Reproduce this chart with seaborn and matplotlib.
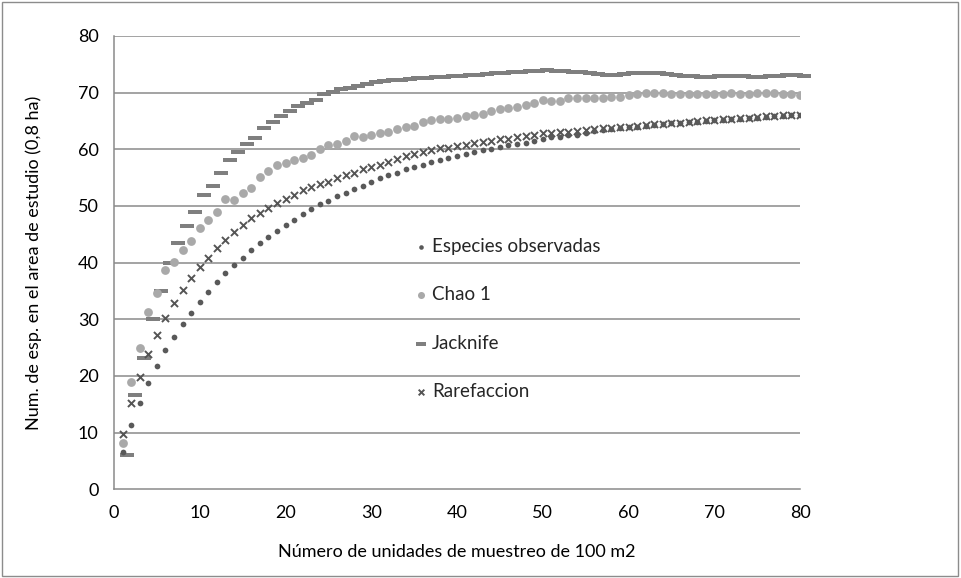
import numpy as np
import pandas as pd
import matplotlib
matplotlib.use("Agg")
import matplotlib.pyplot as plt
import seaborn as sns
from matplotlib.path import Path
from matplotlib.patches import Rectangle

# ---- data, one value per sampling unit 1..80 ----
observadas = [6.5, 11.3, 15.3, 18.8, 21.8, 24.5, 26.9, 29.1, 31.2, 33.1, 34.9, 36.6, 38.1, 39.6, 40.9, 42.2,
              43.4, 44.5, 45.6, 46.6, 47.6, 48.5,
              49.4, 50.3, 50.9, 51.8, 52.3, 53.0, 53.6, 54.3, 54.9, 55.5, 55.9, 56.5,
              56.9, 57.2, 57.7, 58.1, 58.5, 58.9, 59.2, 59.5, 59.8, 60.1, 60.4, 60.7, 60.9, 61.2, 61.4, 61.8,
              62.1, 62.2, 62.5, 62.6, 62.9, 63.2, 63.4, 63.5, 63.7, 63.9, 64.0, 64.1, 64.3, 64.4, 64.6, 64.7,
              64.8, 64.9,
              65.0, 65.1, 65.2, 65.3, 65.4, 65.5, 65.6, 65.7, 65.8, 65.9, 66.0, 66.0]
chao1 = [8.1, 19.0, 24.9, 31.3, 34.7, 38.7, 40.1, 42.2, 43.8, 46.2, 47.6, 49.0, 51.3, 51.0, 52.3, 53.1,
         55.1, 56.2, 57.2, 57.6, 58.1, 58.5,
         59.0, 60.0, 60.8, 61.0, 61.5, 62.4, 62.2, 62.6, 62.9, 63.1, 63.5, 64.0,
         64.1, 64.9, 65.2, 65.4, 65.3, 65.6, 65.9, 66.0, 66.3, 66.8, 67.1, 67.3, 67.5, 67.9, 68.2, 68.7,
         68.6, 68.6, 69.0, 69.1, 69.0, 69.1, 69.1, 69.3, 69.3, 69.6, 69.7, 69.9, 69.9, 69.9, 69.7, 69.7,
         69.7, 69.7,
         69.7, 69.8, 69.8, 69.9, 69.8, 69.8, 69.9, 70.0, 69.9, 69.8, 69.8, 69.6]
jacknife = [6.0, 16.6, 23.2, 30.1, 35.0, 40.0, 43.4, 46.5, 49.0, 51.9, 53.6, 55.9, 58.1, 59.5, 61.0, 62.0,
            63.8, 64.8, 65.8, 66.8, 67.6,
            68.1, 68.7, 69.7, 70.2, 70.6, 70.9, 71.2, 71.5, 71.8, 72.0, 72.2, 72.3,
            72.4, 72.5, 72.6, 72.7, 72.8, 72.9, 73.0, 73.1, 73.2, 73.3, 73.4, 73.5, 73.6, 73.7, 73.8, 73.9, 74.0,
            73.9, 73.8, 73.7, 73.6, 73.4, 73.3, 73.2, 73.2, 73.3, 73.4, 73.5, 73.5, 73.4, 73.3, 73.1, 73.0,
            72.9, 72.8,
            72.8, 72.9, 73.0, 73.0, 72.9, 72.8, 72.8, 72.9, 73.0, 73.1, 73.1, 73.0]
rarefaccion = [9.7, 15.3, 19.9, 23.9, 27.3, 30.2, 32.8, 35.2, 37.3, 39.2, 40.9, 42.5, 44.0, 45.4, 46.6, 47.8,
               48.8, 49.7, 50.5, 51.2, 52.0, 52.8,
               53.3, 53.8, 54.3, 54.9, 55.5, 55.9, 56.5, 56.9, 57.3, 57.7, 58.3, 58.8,
               59.2, 59.6, 59.9, 60.2, 60.3, 60.6, 60.8, 61.1, 61.3, 61.5, 61.8, 61.9, 62.1, 62.3, 62.6, 62.8,
               62.9, 63.0, 63.1, 63.3, 63.4, 63.5, 63.7, 63.8, 63.9, 64.0, 64.2, 64.3, 64.4, 64.5, 64.6, 64.7,
               64.9, 65.0,
               65.1, 65.2, 65.3, 65.4, 65.5, 65.6, 65.7, 65.8, 65.9, 66.0, 66.0, 66.1]
unidades = list(range(1, 81))          # sampling units of 100 m2
jack_shift = 0.5                       # jacknife markers sit half a unit to the right

labels = ["Especies observadas", "Chao 1", "Jacknife", "Rarefaccion"]
x_ticks = list(range(0, 81, 10))
y_ticks = list(range(0, 81, 10))

# ---- style ----
sns.set_theme(style="white")
plt.rcParams["font.family"] = ["Lato", "DejaVu Sans"]

fig = plt.figure(figsize=(9.61, 5.78), dpi=100)
ax = fig.add_axes([114 / 961, 1 - 489.3 / 578, 686 / 961, (489.3 - 36) / 578])

grid_c = "#8a8a8a"
for yv in y_ticks[1:]:
    ax.axhline(yv, color=grid_c, lw=1.1, zorder=0)

dash = Path([(-1, -0.33), (1, -0.33), (1, 0.33), (-1, 0.33), (-1, -0.33)],
            [Path.MOVETO, Path.LINETO, Path.LINETO, Path.LINETO, Path.CLOSEPOLY])

x_units = np.array(unidades, dtype=float)
df_obs = pd.DataFrame({"x": x_units, "y": observadas})
df_chao = pd.DataFrame({"x": x_units, "y": chao1})
df_jack = pd.DataFrame({"x": x_units + jack_shift, "y": jacknife})
df_rare = pd.DataFrame({"x": x_units, "y": rarefaccion})

sns.scatterplot(data=df_jack, x="x", y="y", ax=ax, marker=dash, s=95, color="#7f7f7f",
                linewidth=0, label=labels[2], zorder=3, clip_on=False)
sns.scatterplot(data=df_chao, x="x", y="y", ax=ax, marker="o", s=40, color="#a9a9a9",
                linewidth=0, label=labels[1], zorder=3)
sns.scatterplot(data=df_rare, x="x", y="y", ax=ax, marker="x", s=26, color="#555555",
                linewidth=1.4, label=labels[3], zorder=4)
sns.scatterplot(data=df_obs, x="x", y="y", ax=ax, marker="o", s=17, color="#595959",
                linewidth=0, label=labels[0], zorder=5)

ax.set_xlim(0, 80)
ax.set_ylim(0, 80)
ax.set_xticks(x_ticks)
ax.set_yticks(y_ticks)
ax.tick_params(axis="both", which="major", labelsize=13, colors="black", length=5,
               width=1.1, direction="out", pad=6)
ax.tick_params(axis="both", color=grid_c)
for side in ["top", "right"]:
    ax.spines[side].set_visible(False)
for side in ["left", "bottom"]:
    ax.spines[side].set_color(grid_c)
    ax.spines[side].set_linewidth(1.1)

ax.set_xlabel("Número de unidades de muestreo de 100 m2", fontsize=13, color="black", labelpad=17)
ax.set_ylabel("Num. de esp. en el area de estudio (0,8 ha)", fontsize=13, color="black", labelpad=26)

handles, labs = ax.get_legend_handles_labels()
order = [labs.index(l) for l in labels]
ax.legend([handles[i] for i in order], [labs[i] for i in order],
          loc="upper left", bbox_to_anchor=(0.428, 0.572), frameon=False,
          fontsize=13.5, handlelength=0.6, handletextpad=0.3, labelspacing=1.68,
          markerscale=0.8, borderaxespad=0)

fig.patches.append(Rectangle((0.002, 0.003), 0.995, 0.994, transform=fig.transFigure,
                             fill=False, ec="#8c8c8c", lw=1))

fig.savefig("out.png", dpi=100)
